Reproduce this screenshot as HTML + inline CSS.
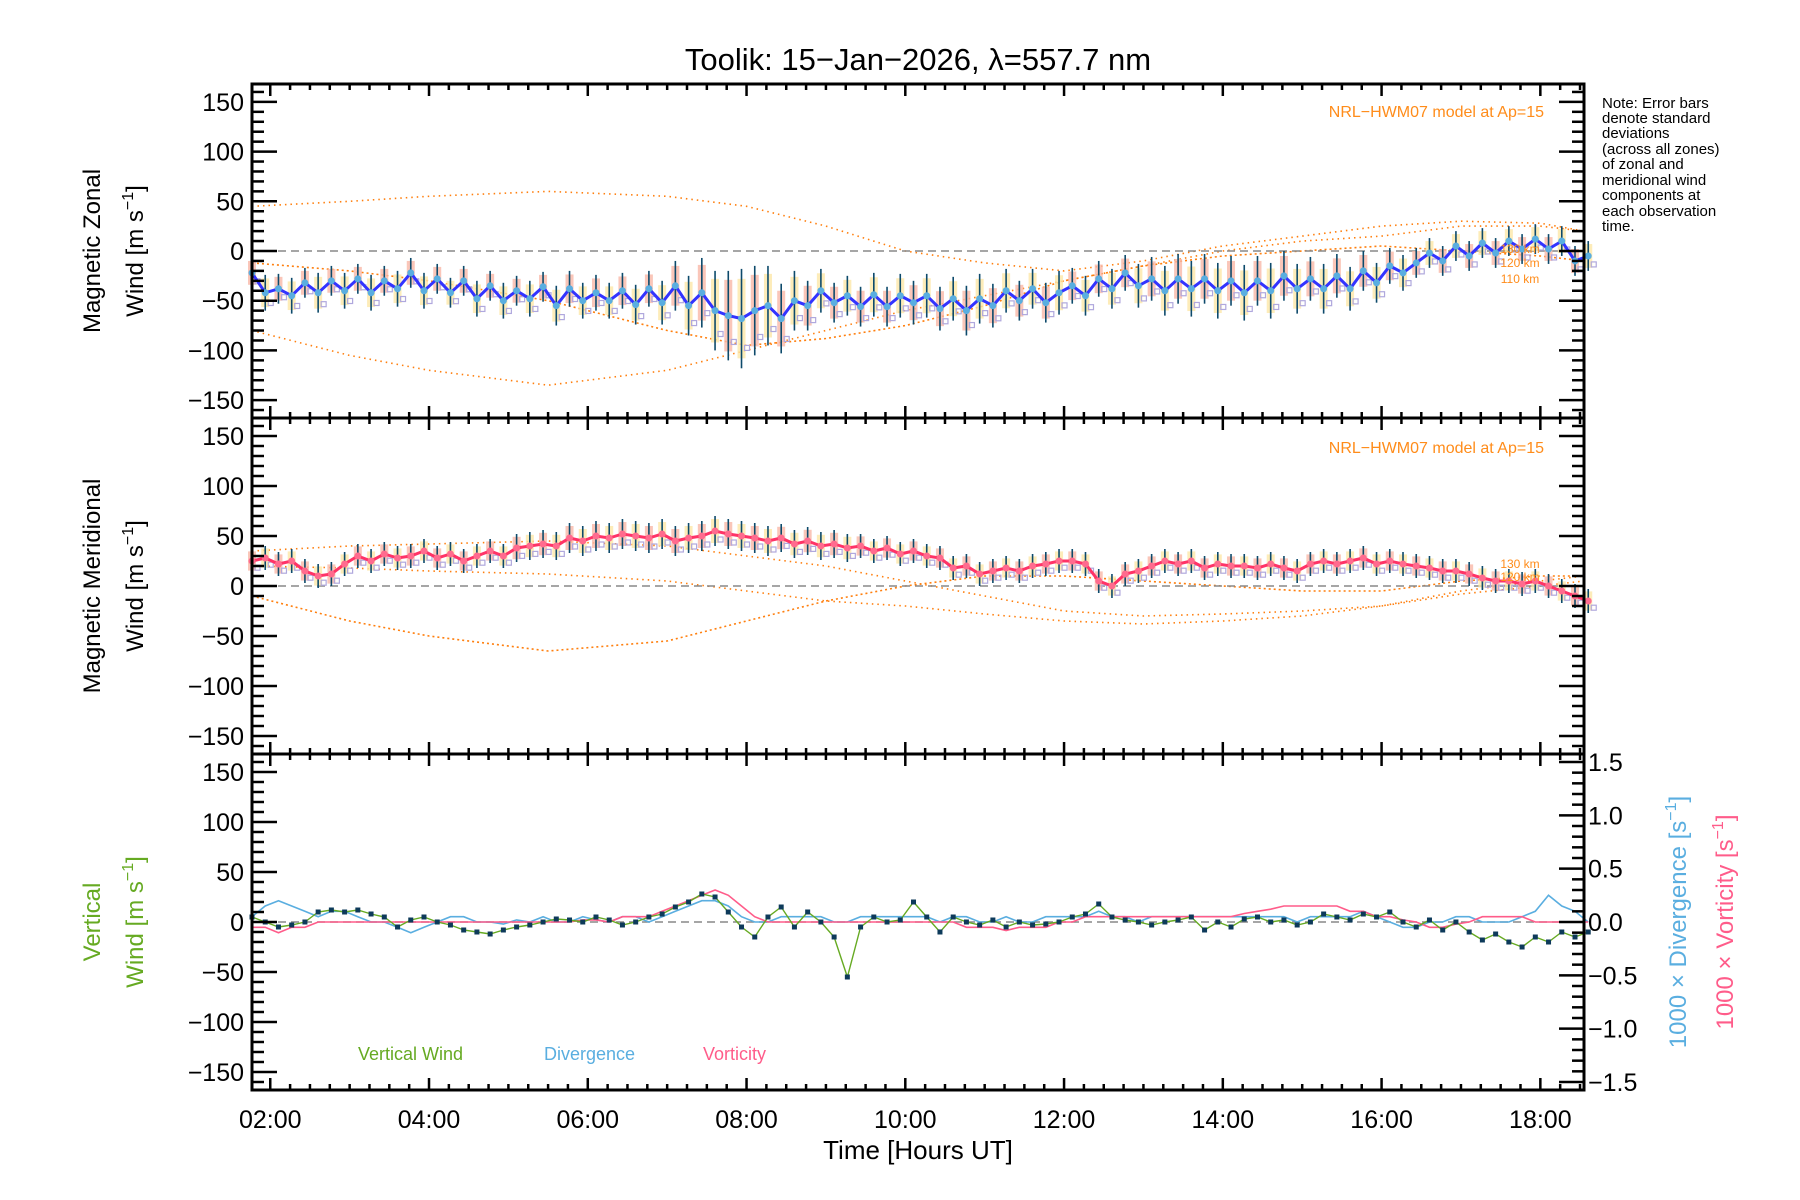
<!DOCTYPE html>
<html><head><meta charset="utf-8"><style>
html,body{margin:0;padding:0;background:#fff;}
svg{display:block;font-family:"Liberation Sans",sans-serif;}
</style></head><body>
<svg id="chart" width="1800" height="1200" viewBox="0 0 1800 1200" xmlns="http://www.w3.org/2000/svg">
<rect x="0" y="0" width="1800" height="1200" fill="#fff"/>
<text x="918" y="70" font-size="31" text-anchor="middle">Toolik: 15−Jan−2026, λ=557.7 nm</text>
<g id="plots"></g>
<text x="100" y="251" font-size="24" text-anchor="middle" transform="rotate(-90 100 251)">Magnetic Zonal</text>
<text x="143" y="251" font-size="24" text-anchor="middle" transform="rotate(-90 143 251)">Wind [m s<tspan dy="-10" font-size="16">−1</tspan><tspan dy="10">]</tspan></text>
<text x="100" y="586" font-size="24" text-anchor="middle" transform="rotate(-90 100 586)">Magnetic Meridional</text>
<text x="143" y="586" font-size="24" text-anchor="middle" transform="rotate(-90 143 586)">Wind [m s<tspan dy="-10" font-size="16">−1</tspan><tspan dy="10">]</tspan></text>
<text x="100" y="922" font-size="24" fill="#66aa22" text-anchor="middle" transform="rotate(-90 100 922)">Vertical</text>
<text x="143" y="922" font-size="24" fill="#66aa22" text-anchor="middle" transform="rotate(-90 143 922)">Wind [m s<tspan dy="-10" font-size="16">−1</tspan><tspan dy="10">]</tspan></text>
<text x="1686" y="922" font-size="24" fill="#5aaee0" text-anchor="middle" transform="rotate(-90 1686 922)">1000 × Divergence [s<tspan dy="-10" font-size="16">−1</tspan><tspan dy="10">]</tspan></text>
<text x="1733" y="922" font-size="24" fill="#ff5c8a" text-anchor="middle" transform="rotate(-90 1733 922)">1000 × Vorticity [s<tspan dy="-10" font-size="16">−1</tspan><tspan dy="10">]</tspan></text>
<text x="918" y="1159" font-size="26" text-anchor="middle">Time [Hours UT]</text>
<g font-size="15">
<text x="1602" y="108">Note: Error bars</text>
<text x="1602" y="123">denote standard</text>
<text x="1602" y="138">deviations</text>
<text x="1602" y="154">(across all zones)</text>
<text x="1602" y="169">of zonal and</text>
<text x="1602" y="185">meridional wind</text>
<text x="1602" y="200">components at</text>
<text x="1602" y="216">each observation</text>
<text x="1602" y="231">time.</text>
</g>
<text x="1544" y="117" font-size="16" fill="#ff8c1a" text-anchor="end">NRL−HWM07 model at Ap=15</text>
<text x="1544" y="453" font-size="16" fill="#ff8c1a" text-anchor="end">NRL−HWM07 model at Ap=15</text>
<text x="1520" y="253" font-size="12" fill="#ff8c1a" text-anchor="middle">130 km</text>
<text x="1520" y="267" font-size="12" fill="#ff8c1a" text-anchor="middle">120 km</text>
<text x="1520" y="283" font-size="12" fill="#ff8c1a" text-anchor="middle">110 km</text>
<text x="1520" y="568" font-size="12" fill="#ff8c1a" text-anchor="middle">130 km</text>
<text x="1520" y="581" font-size="12" fill="#ff8c1a" text-anchor="middle">120 km</text>
<text x="358" y="1060" font-size="18" fill="#66aa22">Vertical Wind</text>
<text x="544" y="1060" font-size="18" fill="#5aaee0">Divergence</text>
<text x="703" y="1060" font-size="18" fill="#ff5c8a">Vorticity</text>
</svg>
<script>
const startHour = 1.77;
const stepHour = 1/6;
const zonal = [-22,-42,-38,-45,-32,-42,-30,-40,-28,-42,-30,-38,-22,-40,-28,-42,-30,-48,-35,-50,-40,-48,-36,-55,-38,-50,-42,-50,-40,-54,-38,-52,-35,-55,-42,-60,-65,-68,-60,-55,-68,-50,-55,-40,-52,-45,-56,-44,-56,-45,-52,-45,-58,-48,-60,-48,-55,-40,-50,-38,-52,-42,-35,-45,-28,-38,-22,-35,-28,-40,-28,-38,-28,-40,-30,-42,-30,-40,-25,-38,-28,-38,-25,-38,-20,-32,-15,-22,-12,-2,-10,5,-5,8,-2,10,2,12,2,10,-10,-5];
const zonalErr = [15,18,15,18,15,20,15,18,15,18,15,18,15,18,15,15,15,18,15,18,15,18,15,20,18,18,18,18,18,20,18,22,25,30,35,40,45,50,45,40,35,30,25,22,20,20,20,22,20,22,22,22,22,22,25,25,22,22,20,20,20,22,18,20,18,20,18,22,22,25,25,28,25,28,25,28,25,28,25,25,22,25,22,22,20,20,18,18,15,15,15,15,15,15,15,15,15,15,15,15,15,15];
const meridional = [25,28,22,25,15,10,12,22,30,25,32,28,30,35,28,32,25,30,35,30,38,40,42,40,48,45,50,48,52,50,48,52,45,48,50,55,52,50,48,45,48,42,45,40,42,38,40,35,38,32,35,30,28,18,20,12,15,18,15,20,22,25,25,22,5,0,12,15,20,25,22,25,18,22,20,20,18,22,18,15,22,25,22,25,28,22,25,22,20,18,15,15,12,8,5,5,2,5,0,-5,-10,-15];
const meridionalErr = [12,12,12,12,12,12,12,12,12,12,12,12,12,12,12,12,12,12,12,12,14,14,14,14,15,15,15,15,15,15,15,15,15,15,15,15,15,15,15,15,14,14,14,14,14,14,12,12,12,12,12,12,12,12,12,12,12,12,12,12,12,12,12,12,12,12,12,12,12,12,12,12,12,12,12,12,12,12,12,12,12,12,12,12,12,12,12,12,12,12,12,12,12,12,12,12,12,12,12,12,12,12];
const vertical = [5,0,-5,-3,0,10,12,10,12,8,5,-5,2,5,0,-3,-8,-10,-12,-8,-5,-3,0,3,2,0,5,2,-3,0,5,8,15,20,28,25,10,-5,-15,5,15,-5,10,0,-15,-55,-5,5,0,2,20,5,-10,5,0,-3,2,-5,0,-3,-2,0,5,8,18,5,2,0,-3,0,2,5,-8,0,-5,3,5,0,2,-3,0,8,5,2,8,5,10,0,-5,2,-8,0,-10,-18,-12,-20,-25,-15,-20,-10,-15,-10];
const divergence = [0.05,0.15,0.2,0.15,0.1,0.05,0.1,0.1,0.05,0.0,0.0,-0.05,-0.1,-0.05,0.0,0.05,0.05,0.0,0.0,-0.02,0.02,0.0,0.05,0.0,0.0,0.05,0.02,0.0,0.05,0.05,0.0,0.05,0.1,0.15,0.2,0.2,0.15,0.05,0.0,0.0,0.05,0.05,0.05,0.05,0.0,0.0,0.05,0.05,0.05,0.05,0.05,0.05,0.0,0.05,0.05,0.0,0.0,0.05,0.0,0.0,0.05,0.05,0.05,0.05,0.1,0.05,0.05,0.0,0.05,0.05,0.05,0.05,0.05,0.05,0.05,0.05,0.05,0.05,0.05,0.0,0.05,0.05,0.05,0.05,0.1,0.05,0.0,-0.05,-0.05,0.0,0.0,0.05,0.05,0.0,0.0,0.0,0.05,0.1,0.25,0.15,0.1,0.0];
const vorticity = [-0.05,-0.05,-0.1,-0.05,-0.05,0.0,0.0,0.0,0.0,0.0,0.0,0.0,0.0,0.0,0.0,0.0,0.0,0.0,0.0,0.0,0.0,0.0,0.0,0.0,0.0,0.02,0.02,0.0,0.05,0.05,0.05,0.1,0.15,0.2,0.25,0.3,0.25,0.15,0.05,0.0,0.0,0.0,0.0,0.0,0.0,0.0,0.0,0.0,0.0,0.0,0.0,0.0,0.0,0.0,-0.05,-0.05,-0.05,-0.08,-0.05,-0.05,-0.05,0.0,0.0,0.05,0.05,0.05,0.05,0.05,0.05,0.05,0.05,0.05,0.05,0.05,0.05,0.08,0.1,0.12,0.15,0.15,0.15,0.15,0.15,0.1,0.1,0.05,0.05,0.02,0.0,-0.05,-0.05,-0.02,0.0,0.05,0.05,0.05,0.05,0.0,0.0,0.0,0.0,0.0];
const modelHours = [1.77,3,4,5.5,7,8,9,10,11,12,13,14,15,16,17,18,18.55];
const zonalModelA = [45,50,55,60,55,45,25,0,-12,-20,-10,5,15,25,30,28,20];
const zonalModelB = [-80,-105,-120,-135,-120,-100,-80,-60,-45,-30,-15,0,10,15,25,25,20];
const zonalModelC = [-12,-20,-30,-50,-80,-95,-88,-75,-55,-30,-15,-5,0,5,0,-5,-10];
const meridionalModelA = [35,40,42,45,40,30,20,5,-10,-25,-30,-28,-25,-20,-5,5,10];
const meridionalModelB = [-10,-35,-50,-65,-55,-35,-15,0,10,10,5,0,-5,-5,5,10,10];
const meridionalModelC = [20,18,15,12,5,-5,-15,-20,-28,-35,-38,-35,-30,-20,-8,0,5];
const yTicks = [-150,-100,-50,0,50,100,150];
const rightTicks = [-1.5,-1.0,-0.5,0.0,0.5,1.0,1.5];
const xTickHours = [2,4,6,8,10,12,14,16,18];
const xTickLabels = ["02:00","04:00","06:00","08:00","10:00","12:00","14:00","16:00","18:00"];

const NS = "http://www.w3.org/2000/svg";
const L = 252, R = 1584, H0 = 1.77, H1 = 18.55;
const panels = [{top:84,bot:418},{top:418,bot:754},{top:754,bot:1090}];
const YR = 168, RR = 1.575;
const root = document.getElementById('plots');
function xs(h){ return L + (h - H0) / (H1 - H0) * (R - L); }
function ys(p, v){ const c=(p.top+p.bot)/2; return c - v / YR * (p.bot - p.top) / 2; }
function yr(p, v){ const c=(p.top+p.bot)/2; return c - v / RR * (p.bot - p.top) / 2; }
function hourAt(i){ return startHour + i * stepHour; }
function mk(tag, attrs, parent){ const e=document.createElementNS(NS,tag); for(const k in attrs) e.setAttribute(k, attrs[k]); (parent||root).appendChild(e); return e; }
function polyline(pts, attrs){ return mk('polyline', Object.assign({points: pts.map(p=>p[0].toFixed(1)+','+p[1].toFixed(1)).join(' '), fill:'none'}, attrs)); }

function drawModel(p, arr, dash, name){
  const pl = polyline(modelHours.map((h,i)=>[xs(h), ys(p, arr[i])]), {stroke:'#ff7f0e','stroke-width':1.6,'stroke-dasharray':dash});
  
  
}
drawModel(panels[0], zonalModelA, '1.5 4', 'zonal-model-130km');
drawModel(panels[0], zonalModelB, '1.5 4', 'zonal-model-120km');
drawModel(panels[0], zonalModelC, '2 3', 'zonal-model-110km');
drawModel(panels[1], meridionalModelA, '1.5 4', 'meridional-model-130km');
drawModel(panels[1], meridionalModelB, '2 3', 'meridional-model-120km');
drawModel(panels[1], meridionalModelC, '1.5 4', 'meridional-model-110km');

panels.forEach((p, k)=>{
  const z = mk('line', {x1:L, x2:R, y1:ys(p,0), y2:ys(p,0), stroke:'#888', 'stroke-width':1.5, 'stroke-dasharray':'8 5'});
  
  
});

function drawWind(p, vals, errs, lineColor, name){
  vals.forEach((v,i)=>{
    const x = xs(hourAt(i));
    const sh = mk('rect', {x:x-4, y:ys(p, v+errs[i]*0.8), width:8, height:ys(p, v-errs[i]*0.8)-ys(p, v+errs[i]*0.8), fill: i%2 ? '#fde7a8' : '#f9b8a8', opacity:0.8});
    
    
    const eb = mk('line', {x1:x, x2:x, y1:ys(p, v+errs[i]), y2:ys(p, v-errs[i]), stroke:'#0d4a6b', 'stroke-width':1.6});
    
    
    const sq = mk('rect', {x:x+3, y:ys(p, v - errs[i]*0.6)-3, width:5, height:5, fill:'none', stroke:'#b0a8dd', 'stroke-width':1.2});
    
    
  });
  const pl = polyline(vals.map((v,i)=>[xs(hourAt(i)), ys(p, v)]), {stroke: lineColor, 'stroke-width':3});
  
  
  vals.forEach((v,i)=>{
    const c = mk('circle', {cx:xs(hourAt(i)), cy:ys(p, v), r:3.5, fill: name==='zonal' ? '#5aaee0' : '#ff6b8e'});
    
    
  });
}
drawWind(panels[0], zonal, zonalErr, '#3333ff', 'zonal');
drawWind(panels[1], meridional, meridionalErr, '#ff3366', 'meridional');

const p3 = panels[2];
const dv = polyline(divergence.map((v,i)=>[xs(hourAt(i)), yr(p3, v)]), {stroke:'#5aaee0','stroke-width':1.6});


const vo = polyline(vorticity.map((v,i)=>[xs(hourAt(i)), yr(p3, v)]), {stroke:'#ff5c8a','stroke-width':1.6});


const vw = polyline(vertical.map((v,i)=>[xs(hourAt(i)), ys(p3, v)]), {stroke:'#66aa22','stroke-width':1.4});


vertical.forEach((v,i)=>{
  const s = mk('rect', {x:xs(hourAt(i))-2.5, y:ys(p3, v)-2.5, width:5, height:5, fill:'#0d3a5a'});
  
  
});

panels.forEach((p, k)=>{
  const fr = mk('rect', {x:L, y:p.top, width:R-L, height:p.bot-p.top, fill:'none', stroke:'#000', 'stroke-width':3});
  
  
  for(let v=-160; v<=160; v+=10){
    const major = v % 50 === 0;
    const len = major ? 25 : 12;
    mk('line', {x1:L, x2:L+len, y1:ys(p,v), y2:ys(p,v), stroke:'#000','stroke-width':2.5});
    if(k<2) mk('line', {x1:R, x2:R-len, y1:ys(p,v), y2:ys(p,v), stroke:'#000','stroke-width':2.5});
  }
  yTicks.forEach(v=>{
    const t = mk('text', {x:L-8, y:ys(p,v)+9, 'font-size':25, 'text-anchor':'end'});
    t.textContent = (v<0 ? '−' + (-v) : String(v));
    
    
  });
  for(let h=2; h<=18.5; h+=0.25){
    const major = Math.abs(h % 2) < 1e-6;
    const len = major ? 12 : 6;
    mk('line', {x1:xs(h), x2:xs(h), y1:p.top, y2:p.top+len, stroke:'#000','stroke-width':2.5});
    mk('line', {x1:xs(h), x2:xs(h), y1:p.bot, y2:p.bot-len, stroke:'#000','stroke-width':2.5});
  }
});
for(let i=-15; i<=15; i++){
  const v = i/10;
  const len = (i % 5 === 0) ? 25 : 12;
  mk('line', {x1:R, x2:R-len, y1:yr(p3,v), y2:yr(p3,v), stroke:'#000','stroke-width':2.5});
}
rightTicks.forEach(v=>{
  const t = mk('text', {x:R+4, y:yr(p3,v)+9, 'font-size':25});
  t.textContent = (v<0 ? '−' + (-v).toFixed(1) : v.toFixed(1));
  
  
});
xTickHours.forEach((h,i)=>{
  const t = mk('text', {x:xs(h), y:1128, 'font-size':25, 'text-anchor':'middle'});
  t.textContent = xTickLabels[i];
  
  
});
</script>
</body></html>
